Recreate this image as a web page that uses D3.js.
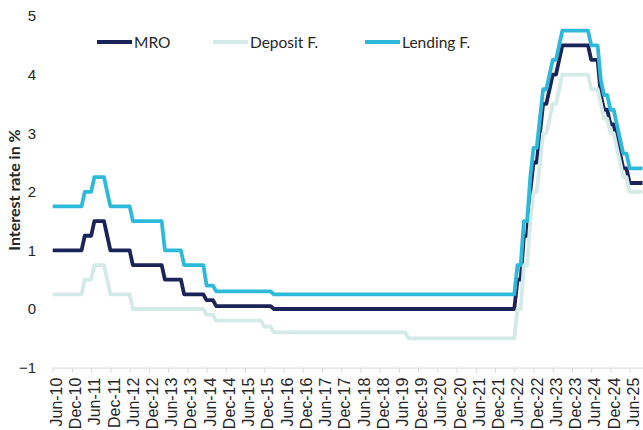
<!DOCTYPE html>
<html><head><meta charset="utf-8">
<script src="https://cdn.jsdelivr.net/npm/d3@7"></script>
<style>
html,body{margin:0;padding:0;background:#fff;}
svg{display:block;font-family:Lato,"Open Sans",sans-serif;}
</style></head>
<body>
<svg id="c" width="643" height="430"></svg>
<script>
// Monthly end-of-month values, Jun-10 ... Oct-25
const mro = [
  1,1,1,1,1,1,1,                                   // 2010 Jun-Dec
  1,1,1,1.25,1.25,1.25,1.5,1.5,1.5,1.5,1.25,1,     // 2011
  1,1,1,1,1,1,0.75,0.75,0.75,0.75,0.75,0.75,       // 2012
  0.75,0.75,0.75,0.75,0.5,0.5,0.5,0.5,0.5,0.5,0.25,0.25, // 2013
  0.25,0.25,0.25,0.25,0.25,0.15,0.15,0.15,0.05,0.05,0.05,0.05, // 2014
  0.05,0.05,0.05,0.05,0.05,0.05,0.05,0.05,0.05,0.05,0.05,0.05, // 2015
  0.05,0.05,0,0,0,0,0,0,0,0,0,0,                   // 2016
  0,0,0,0,0,0,0,0,0,0,0,0,                         // 2017
  0,0,0,0,0,0,0,0,0,0,0,0,                         // 2018
  0,0,0,0,0,0,0,0,0,0,0,0,                         // 2019
  0,0,0,0,0,0,0,0,0,0,0,0,                         // 2020
  0,0,0,0,0,0,0,0,0,0,0,0,                         // 2021
  0,0,0,0,0,0,0.5,0.5,1.25,1.25,2,2.5,             // 2022
  2.5,3,3.5,3.5,3.75,4,4,4.25,4.5,4.5,4.5,4.5,     // 2023
  4.5,4.5,4.5,4.5,4.5,4.25,4.25,4.25,3.65,3.4,3.4,3.15, // 2024
  3.15,2.9,2.65,2.4,2.4,2.15,2.15,2.15,2.15,2.15   // 2025 Jan-Oct
];
const depositF = [
  0.25,0.25,0.25,0.25,0.25,0.25,0.25,
  0.25,0.25,0.25,0.5,0.5,0.5,0.75,0.75,0.75,0.75,0.5,0.25,
  0.25,0.25,0.25,0.25,0.25,0.25,0,0,0,0,0,0,
  0,0,0,0,0,0,0,0,0,0,0,0,
  0,0,0,0,0,-0.1,-0.1,-0.1,-0.2,-0.2,-0.2,-0.2,
  -0.2,-0.2,-0.2,-0.2,-0.2,-0.2,-0.2,-0.2,-0.2,-0.2,-0.2,-0.3,
  -0.3,-0.3,-0.4,-0.4,-0.4,-0.4,-0.4,-0.4,-0.4,-0.4,-0.4,-0.4,
  -0.4,-0.4,-0.4,-0.4,-0.4,-0.4,-0.4,-0.4,-0.4,-0.4,-0.4,-0.4,
  -0.4,-0.4,-0.4,-0.4,-0.4,-0.4,-0.4,-0.4,-0.4,-0.4,-0.4,-0.4,
  -0.4,-0.4,-0.4,-0.4,-0.4,-0.4,-0.4,-0.4,-0.5,-0.5,-0.5,-0.5,
  -0.5,-0.5,-0.5,-0.5,-0.5,-0.5,-0.5,-0.5,-0.5,-0.5,-0.5,-0.5,
  -0.5,-0.5,-0.5,-0.5,-0.5,-0.5,-0.5,-0.5,-0.5,-0.5,-0.5,-0.5,
  -0.5,-0.5,-0.5,-0.5,-0.5,-0.5,0,0,0.75,0.75,1.5,2,
  2,2.5,3,3,3.25,3.5,3.5,3.75,4,4,4,4,
  4,4,4,4,4,3.75,3.75,3.75,3.5,3.25,3.25,3,
  3,2.75,2.5,2.25,2.25,2,2,2,2,2
];
const lendingF = [
  1.75,1.75,1.75,1.75,1.75,1.75,1.75,
  1.75,1.75,1.75,2,2,2,2.25,2.25,2.25,2.25,2,1.75,
  1.75,1.75,1.75,1.75,1.75,1.75,1.5,1.5,1.5,1.5,1.5,1.5,
  1.5,1.5,1.5,1.5,1,1,1,1,1,1,0.75,0.75,
  0.75,0.75,0.75,0.75,0.75,0.4,0.4,0.4,0.3,0.3,0.3,0.3,
  0.3,0.3,0.3,0.3,0.3,0.3,0.3,0.3,0.3,0.3,0.3,0.3,
  0.3,0.3,0.25,0.25,0.25,0.25,0.25,0.25,0.25,0.25,0.25,0.25,
  0.25,0.25,0.25,0.25,0.25,0.25,0.25,0.25,0.25,0.25,0.25,0.25,
  0.25,0.25,0.25,0.25,0.25,0.25,0.25,0.25,0.25,0.25,0.25,0.25,
  0.25,0.25,0.25,0.25,0.25,0.25,0.25,0.25,0.25,0.25,0.25,0.25,
  0.25,0.25,0.25,0.25,0.25,0.25,0.25,0.25,0.25,0.25,0.25,0.25,
  0.25,0.25,0.25,0.25,0.25,0.25,0.25,0.25,0.25,0.25,0.25,0.25,
  0.25,0.25,0.25,0.25,0.25,0.25,0.75,0.75,1.5,1.5,2.25,2.75,
  2.75,3.25,3.75,3.75,4,4.25,4.25,4.5,4.75,4.75,4.75,4.75,
  4.75,4.75,4.75,4.75,4.75,4.5,4.5,4.5,3.9,3.65,3.65,3.4,
  3.4,3.15,2.9,2.65,2.65,2.4,2.4,2.4,2.4,2.4
];
const tickLabels = [
  "Jun-10","Dec-10","Jun-11","Dec-11","Jun-12","Dec-12","Jun-13","Dec-13",
  "Jun-14","Dec-14","Jun-15","Dec-15","Jun-16","Dec-16","Jun-17","Dec-17",
  "Jun-18","Dec-18","Jun-19","Dec-19","Jun-20","Dec-20","Jun-21","Dec-21",
  "Jun-22","Dec-22","Jun-23","Dec-23","Jun-24","Dec-24","Jun-25"
];
const yTicks = [-1,0,1,2,3,4,5];
const seriesNames = ["MRO","Deposit F.","Lending F."];
const seriesColors = ["#1b2458","#d3eae6","#2cb9da"];

const svg = d3.select("#c");
const n = mro.length;
const x = d3.scaleLinear().domain([0, n - 1]).range([52.7, 642.5]);
const y = d3.scaleLinear().domain([-1, 5]).range([367.6, 16]);

// x axis
const xAxis = d3.axisBottom(x)
  .tickValues(tickLabels.map((d, i) => i * 6))
  .tickFormat((d, i) => tickLabels[i])
  .tickSize(5).tickSizeOuter(0);
const gx = svg.append("g").attr("transform", `translate(0,${y(-1)})`).call(xAxis);
gx.select(".domain").attr("stroke", "#d9d9d9").attr("stroke-width", 1);
gx.selectAll(".tick line").attr("stroke", "#d9d9d9");
gx.selectAll(".tick text")
  .attr("fill", "#262626").attr("font-size", 16)
  .attr("transform", "rotate(-90)")
  .attr("text-anchor", "end")
  .attr("x", -10).attr("y", 3).attr("dy", "0.35em");

// y axis
const yAxis = d3.axisLeft(y).tickValues(yTicks).tickFormat(d3.format("d")).tickSize(0);
const gy = svg.append("g").attr("transform", "translate(36,0)").call(yAxis);
gy.select(".domain").remove();
gy.selectAll(".tick text").attr("fill", "#262626").attr("font-size", 15).attr("x", 0);

svg.append("text")
  .attr("transform", "translate(20,190) rotate(-90)")
  .attr("text-anchor", "middle")
  .attr("font-size", 16).attr("font-weight", "bold").attr("fill", "#262626")
  .text("Interest rate in %");

// lines
const line = d3.line().x((d, i) => x(i)).y(d => y(d));
[mro, depositF, lendingF].forEach((s, k) => {
  svg.append("path").datum(s)
    .attr("fill", "none")
    .attr("stroke", seriesColors[k])
    .attr("stroke-width", 3.8)
    .attr("stroke-linejoin", "round")
    .attr("d", line);
});

// legend
const legX = [97, 213, 365];
seriesNames.forEach((name, k) => {
  const g = svg.append("g").attr("transform", `translate(${legX[k]},42)`);
  g.append("line").attr("x1", 0).attr("x2", 35).attr("y1", 0).attr("y2", 0)
    .attr("stroke", seriesColors[k]).attr("stroke-width", 3.8);
  g.append("text").attr("x", 37).attr("y", 0).attr("dy", "0.36em")
    .attr("font-size", 15.5).attr("fill", "#262626").text(name);
});
</script>
</body></html>
